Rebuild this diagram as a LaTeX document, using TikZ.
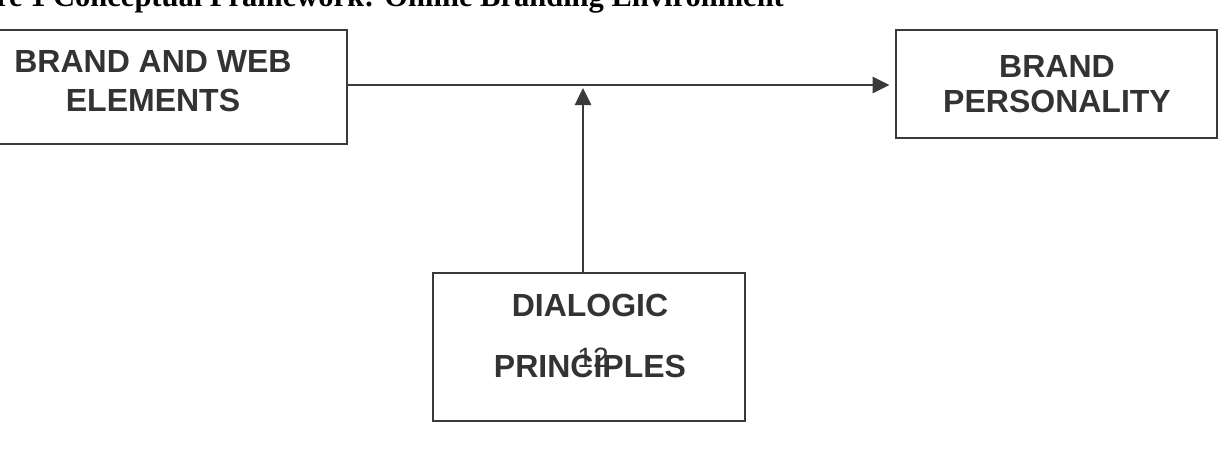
\documentclass[tikz,border=0pt]{standalone}
\usepackage{fontspec}
\setmainfont{Liberation Serif}
\newfontfamily\arialfont{Liberation Sans}
\usetikzlibrary{arrows.meta}
\definecolor{ink}{HTML}{333333}
\definecolor{linec}{HTML}{3A3A3A}
\begin{document}
\begin{tikzpicture}[x=1pt,y=-1pt,
  boxstyle/.style={draw=linec,line width=2.9pt,rectangle,inner sep=0pt},
  labelstyle/.style={text=ink,align=center,inner sep=0pt},
  arrowstyle/.style={draw=linec,line width=2.6pt,-{Triangle[length=17pt,width=16pt]}}]
\useasboundingbox (0,0) rectangle (1226,461);
\fill[white] (0,0) rectangle (1226,461);
% title (top cut off)
\node[anchor=base west,inner sep=0pt,font=\bfseries\fontsize{30.5}{34}\selectfont,text=black] (title) at (-4,6) {re 1 Conceptual Framework: Online Branding Environment};
% boxes
\node[boxstyle,minimum width=388pt,minimum height=114pt] (bwe) at (153,87) {};
\node[boxstyle,minimum width=321pt,minimum height=108pt] (bp) at (1056.5,84) {};
\node[boxstyle,minimum width=312pt,minimum height=148pt] (dp) at (589,347) {};
% texts
\node[labelstyle,font=\arialfont\bfseries\fontsize{32}{39}\selectfont] (bwet) at (153,81) {BRAND AND WEB\\ELEMENTS};
\node[labelstyle,font=\arialfont\bfseries\fontsize{32}{35}\selectfont] (bpt) at (1057,84) {BRAND\\PERSONALITY};
\node[labelstyle,font=\arialfont\bfseries\fontsize{32}{61}\selectfont] (dpt) at (590,336) {DIALOGIC\\PRINCIPLES};
\node[labelstyle,font=\arialfont\fontsize{28}{30}\selectfont,text=ink] (pnum) at (593,358) {12};
% connectors
\coordinate (tipv) at (583,88);
\draw[arrowstyle,shorten >=5pt] (bwe.east |- 0,85) -- (bp.west |- 0,85);
\draw[arrowstyle] (dp.north -| tipv) -- (tipv);
\end{tikzpicture}
\end{document}
